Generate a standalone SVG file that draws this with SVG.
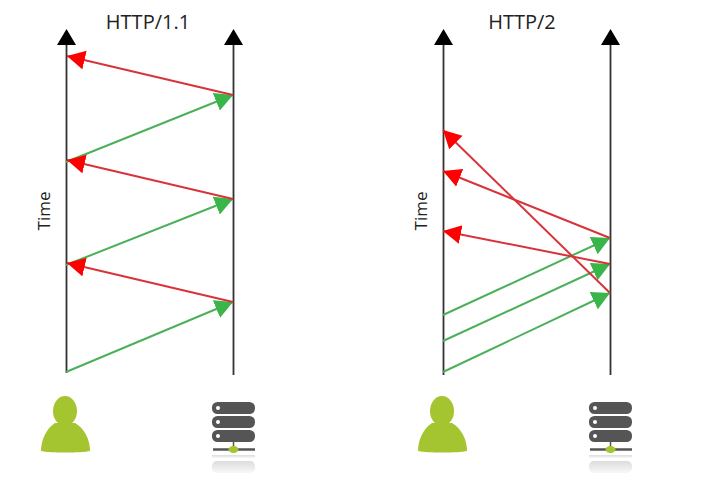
<svg xmlns="http://www.w3.org/2000/svg" width="709" height="481" viewBox="0 0 709 481">
<defs>
<marker id="ax" markerUnits="userSpaceOnUse" markerWidth="20" markerHeight="20" refX="0" refY="9.500" orient="auto"><path d="M0 0L16 9.500L0 19Z" fill="#000"/></marker>
<marker id="r" markerUnits="userSpaceOnUse" markerWidth="20" markerHeight="20" refX="18" refY="9.500" orient="auto"><path d="M0 0L18 9.500L0 19Z" fill="#f00"/></marker>
<marker id="g" markerUnits="userSpaceOnUse" markerWidth="20" markerHeight="20" refX="18" refY="9.500" orient="auto"><path d="M0 0L18 9.500L0 19Z" fill="#39b54a"/></marker>
<linearGradient id="fade" x1="0" y1="0" x2="0" y2="1"><stop offset="0" stop-color="#dcdcdc"/><stop offset="1" stop-color="#f8f8f8"/></linearGradient>
<g id="person"><ellipse cx="65" cy="411" rx="12" ry="15" fill="#a4c52f"/><path d="M55 423C47 428 41 439 41 451C50 453 81 453 90 451C90 439 84 428 75 423Z" fill="#a4c52f"/></g>
<g id="server">
<rect x="212" y="455" width="43" height="3" fill="url(#fade)"/><rect x="212" y="461" width="43" height="12" rx="5" fill="url(#fade)"/>
<rect x="212" y="402" width="43" height="12" rx="5.500" fill="#555"/><rect x="212" y="416" width="43" height="12" rx="5.500" fill="#555"/><rect x="212" y="430" width="43" height="12" rx="5.500" fill="#555"/>
<circle cx="218" cy="408" r="2" fill="#fff"/><circle cx="218" cy="422" r="2" fill="#fff"/><circle cx="218" cy="436" r="2" fill="#fff"/>
<path d="M233.500 442V449" stroke="#555" stroke-width="1.500"/><path d="M213 449.500H255" stroke="#555" stroke-width="2.500"/><ellipse cx="233.500" cy="449.500" rx="5" ry="3.500" fill="#a4c52f"/></g>
</defs>
<style>
.t{font-family:"Open Sans","Liberation Sans",sans-serif;fill:#222}
.a{stroke:#333;stroke-width:1.800;fill:none;marker-end:url(#ax)}
.r{stroke:#d8333a;stroke-width:2;fill:none;marker-end:url(#r)}
.g{stroke:#4cb05a;stroke-width:2;fill:none;marker-end:url(#g)}
</style>
<rect width="709" height="481" fill="#fff"/>
<g id="connectors">
<path class="a" d="M66.500 373V45"/><path class="a" d="M233.500 375V45"/><path class="a" d="M443.500 375V45"/><path class="a" d="M610.500 375V45"/>
<path class="g" d="M66 162L233 95"/><path class="g" d="M66 265L233 199"/><path class="g" d="M66 372L233 302"/>
<path class="r" d="M233 95L67 56"/><path class="r" d="M233 199L67 160"/><path class="r" d="M233 302L67 263"/>
<path class="g" d="M443 315L610 238"/><path class="g" d="M443 341L610 264"/><path class="g" d="M443 372L610 293"/>
<path class="r" d="M610 264L443 231"/><path class="r" d="M610 238L443 171"/><path class="r" d="M610 293L443 130"/>
</g>
<g id="title-http11"><text class="t" x="148" y="29" font-size="20" text-anchor="middle">HTTP/1.1</text></g>
<g id="title-http2"><text class="t" x="522" y="29" font-size="20" text-anchor="middle">HTTP/2</text></g>
<g id="time-left"><text class="t" font-size="17" text-anchor="middle" transform="translate(50 211) rotate(-90)">Time</text></g>
<g id="time-right"><text class="t" font-size="17" text-anchor="middle" transform="translate(427 211) rotate(-90)">Time</text></g>
<g id="client-1"><use href="#person"/></g>
<g id="server-1"><use href="#server"/></g>
<g id="client-2"><use href="#person" x="377"/></g>
<g id="server-2"><use href="#server" x="377"/></g>
</svg>
